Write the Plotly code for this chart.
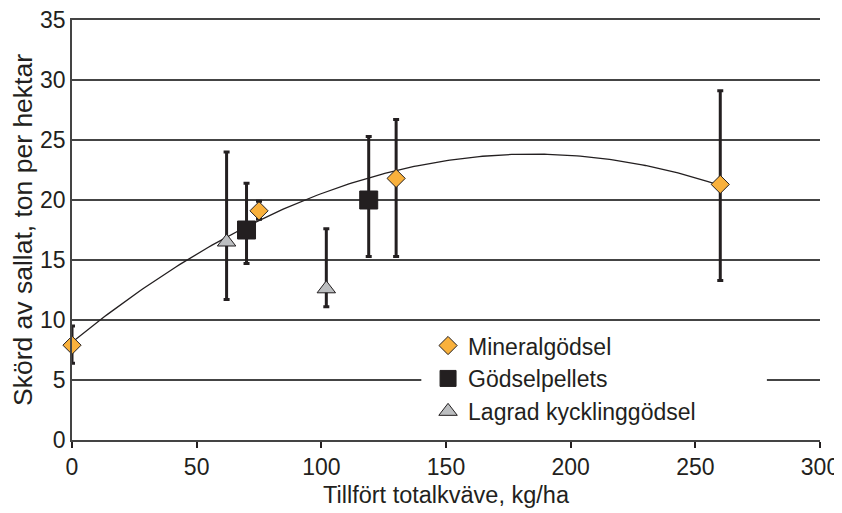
import numpy as np
import plotly.graph_objects as go

# Data
min_x = [0, 75, 130, 260]
min_y = [7.9, 19.1, 21.8, 21.3]
min_hi = [9.5, 19.9, 26.7, 29.1]
min_lo = [6.4, 18.4, 15.3, 13.3]

pel_x = [70, 119]
pel_y = [17.5, 20.0]
pel_hi = [21.4, 25.3]
pel_lo = [14.7, 15.3]

kyc_x = [62, 102]
kyc_y = [16.5, 12.6]
kyc_hi = [24.0, 17.6]
kyc_lo = [11.7, 11.1]

x_ticks = [0, 50, 100, 150, 200, 250, 300]
y_ticks = [0, 5, 10, 15, 20, 25, 30, 35]

INK = "#231f20"
FONT = "Liberation Sans, Arial, sans-serif"

# quadratic trend line fitted to the mineral fertiliser series
coef = np.polyfit(min_x, min_y, 2)
tx = np.linspace(min(min_x), max(min_x), 200)
ty = np.polyval(coef, tx)

def err(y, hi, lo):
    return dict(type="data", symmetric=False,
                array=[h - v for h, v in zip(hi, y)],
                arrayminus=[v - l for v, l in zip(y, lo)],
                color=INK, thickness=3, width=3)

fig = go.Figure()
fig.add_trace(go.Scatter(x=tx, y=ty, mode="lines", line=dict(color=INK, width=1.3),
                         showlegend=False, hoverinfo="skip", cliponaxis=False))
fig.add_trace(go.Scatter(x=min_x, y=min_y, mode="markers", name="Mineralgödsel",
                         error_y=err(min_y, min_hi, min_lo), cliponaxis=False,
                         marker=dict(symbol="diamond", size=14, color="#F9B13C",
                                     line=dict(color=INK, width=1))))
fig.add_trace(go.Scatter(x=pel_x, y=pel_y, mode="markers", name="Gödselpellets",
                         error_y=err(pel_y, pel_hi, pel_lo), cliponaxis=False,
                         marker=dict(symbol="square", size=18, color=INK,
                                     line=dict(color=INK, width=1))))
fig.add_trace(go.Scatter(x=kyc_x, y=kyc_y, mode="markers", name="Lagrad kycklinggödsel",
                         error_y=err(kyc_y, kyc_hi, kyc_lo), cliponaxis=False,
                         marker=dict(symbol="triangle-up", size=16, color="#BCBEC0",
                                     line=dict(color=INK, width=1))))

# page has an 8px body margin, so the figure is sized 8px smaller
fig.update_layout(
    width=834, height=505,
    margin=dict(l=64, r=22, t=12, b=73, autoexpand=False),
    paper_bgcolor="white", plot_bgcolor="white",
    font=dict(family=FONT, size=23, color=INK),
    showlegend=True,
    legend=dict(x=0.476, y=0.276, xanchor="left", yanchor="top",
                bgcolor="rgba(0,0,0,0)", borderwidth=0,
                font=dict(family=FONT, size=23, color=INK),
                tracegroupgap=0, itemsizing="trace"),
    shapes=[dict(type="rect", xref="paper", yref="paper",
                 x0=0.467, x1=0.929, y0=0.107, y1=0.179,
                 fillcolor="white", line=dict(width=0), layer="above")],
)
fig.update_xaxes(range=[0, 300], tickvals=x_ticks, ticks="outside", ticklen=6,
                 tickwidth=1.5, tickcolor=INK, showgrid=False, zeroline=False,
                 showline=True, mirror=True, linecolor="#444", linewidth=1.5,
                 automargin=False, ticklabeloverflow="allow",
                 title=dict(text="Tillfört totalkväve, kg/ha", standoff=7,
                            font=dict(size=23.5)),
                 tickfont=dict(size=23))
fig.update_yaxes(range=[0, 35], tickvals=y_ticks, ticks="", showgrid=True,
                 gridcolor="#444", gridwidth=1.5, zeroline=False,
                 showline=True, linecolor="#444", linewidth=1.5, automargin=False,
                 ticklabeloverflow="allow",
                 title=dict(text="Skörd av sallat, ton per hektar", standoff=6,
                            font=dict(size=26.5)),
                 tickfont=dict(size=23))

fig.write_html("out.html")
